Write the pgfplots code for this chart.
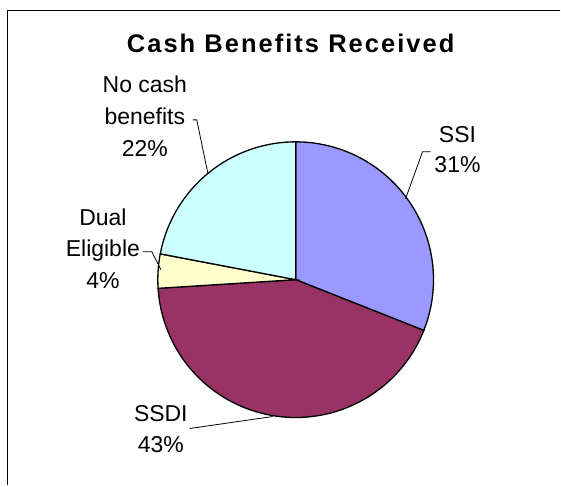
\documentclass[border=0pt]{standalone}
\usepackage{pgfplots}
\pgfplotsset{compat=1.18}
\usepackage{fontspec}
\setmainfont{Liberation Sans}
\newfontfamily\titlefont[LetterSpace=8]{Liberation Sans}
\definecolor{cSSI}{HTML}{9999FF}
\definecolor{cSSDI}{HTML}{993366}
\definecolor{cDual}{HTML}{FFFFCC}
\definecolor{cNo}{HTML}{CCFFFF}
% data (percent)
\def\pSSI{31}
\def\pSSDI{43}
\def\pDual{4}
\def\pNo{22}
\newcommand\lbl{\fontsize{23}{27}\selectfont}
\begin{document}
\begin{tikzpicture}
\pgfmathsetmacro\aA{90}
\pgfmathsetmacro\aB{\aA-3.6*\pSSI}
\pgfmathsetmacro\aC{\aB-3.6*\pSSDI}
\pgfmathsetmacro\aD{\aC-3.6*\pDual}
\pgfmathsetmacro\aE{\aD-3.6*\pNo}
\begin{axis}[scale only axis, width=561pt, height=486pt,
  xmin=0, xmax=561, ymin=0, ymax=486, y dir=reverse,
  hide axis, clip=false, no markers]
\path (axis cs:0,0) rectangle (axis cs:561,486);
% frame
\addplot[black, line width=1.3pt] coordinates {(561,10.5) (7.5,10.5) (7.5,486)};
% wedges
\addplot[fill=cSSI, draw=black, line width=1.3pt, domain=\aB:\aA, samples=80]
  ({296+138*cos(x)},{280-138*sin(x)}) -- (axis cs:296,280) -- cycle;
\addplot[fill=cSSDI, draw=black, line width=1.3pt, domain=\aC:\aB, samples=100]
  ({296+138*cos(x)},{280-138*sin(x)}) -- (axis cs:296,280) -- cycle;
\addplot[fill=cDual, draw=black, line width=1.3pt, domain=\aD:\aC, samples=20]
  ({296+138*cos(x)},{280-138*sin(x)}) -- (axis cs:296,280) -- cycle;
\addplot[fill=cNo, draw=black, line width=1.3pt, domain=\aE:\aD, samples=60]
  ({296+138*cos(x)},{280-138*sin(x)}) -- (axis cs:296,280) -- cycle;
% leader lines
\addplot[black, line width=0.8pt] coordinates {(431,152) (423,152) (406,199)};
\addplot[black, line width=0.8pt] coordinates {(193,120) (197,120) (208,173)};
\addplot[black, line width=0.8pt] coordinates {(143,252) (152,252) (161,270)};
\addplot[black, line width=0.8pt] coordinates {(190,429) (273,417)};
% title
\node[anchor=base] at (axis cs:291,53) {\titlefont\bfseries\fontsize{25.5}{30}\selectfont Cash Benefits Received};
% labels
\node[anchor=base, font=\lbl] at (axis cs:458,143) {SSI};
\node[anchor=base, font=\lbl] at (axis cs:458,173) {31\%};
\node[anchor=base, font=\lbl] at (axis cs:161,422) {SSDI};
\node[anchor=base, font=\lbl] at (axis cs:161,453) {43\%};
\node[anchor=base, font=\lbl] at (axis cs:103,226) {Dual};
\node[anchor=base, font=\lbl] at (axis cs:103,257) {Eligible};
\node[anchor=base, font=\lbl] at (axis cs:103,289) {4\%};
\node[anchor=base, font=\lbl] at (axis cs:145,93) {No cash};
\node[anchor=base, font=\lbl] at (axis cs:145,125) {benefits};
\node[anchor=base, font=\lbl] at (axis cs:145,157) {22\%};
\end{axis}
\end{tikzpicture}
\end{document}
